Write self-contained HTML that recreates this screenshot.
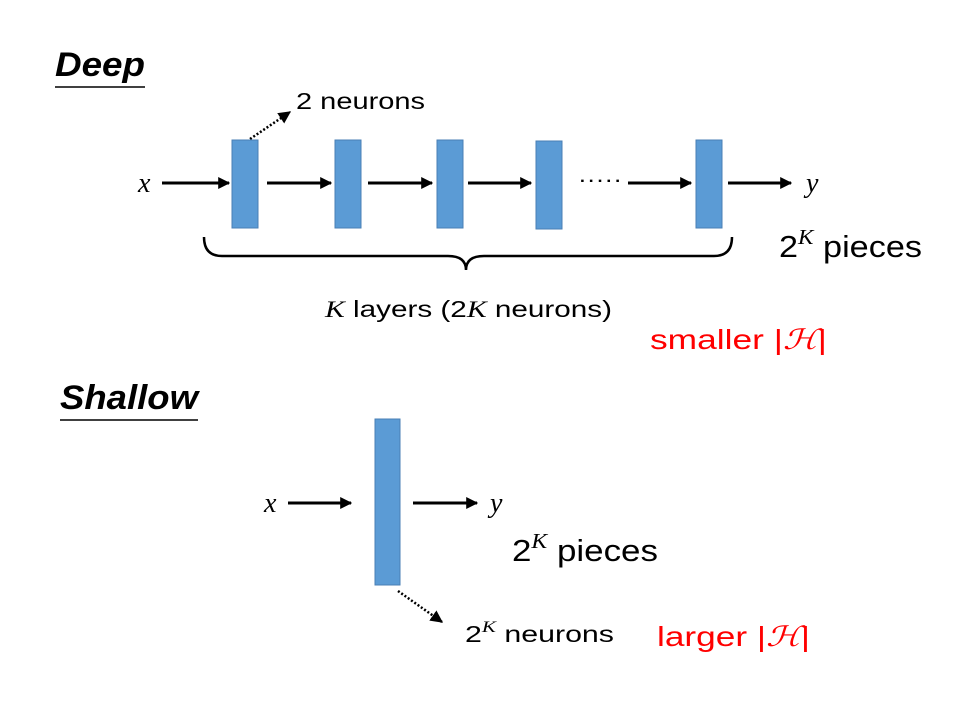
<!DOCTYPE html>
<html><head><meta charset="utf-8"><style>
html,body{margin:0;padding:0;background:#fff;width:960px;height:720px;overflow:hidden}
svg{display:block}
text{font-family:"Liberation Sans","DejaVu Sans",sans-serif}
.m{font-family:"Liberation Serif",serif;font-style:italic}
</style></head><body>
<svg width="960" height="720" viewBox="0 0 960 720">
<defs>
<marker id="ah" viewBox="0 0 10 10" refX="9" refY="5" markerWidth="4" markerHeight="4" orient="auto"><path d="M0,0L10,5L0,10z" fill="#000"/></marker>
<marker id="ahs" viewBox="0 0 10 10" refX="9" refY="5" markerWidth="5" markerHeight="5" orient="auto"><path d="M0,0L10,5L0,10z" fill="#000"/></marker>
</defs>
<g>
<text x="55" y="76" font-size="34" font-weight="bold" font-style="italic" textLength="90" lengthAdjust="spacingAndGlyphs">Deep</text>
<line x1="55" y1="87" x2="145" y2="87" stroke="#000" stroke-width="1.5"/>
<text x="296" y="109" font-size="23" textLength="129" lengthAdjust="spacingAndGlyphs">2 neurons</text>
<line x1="250" y1="139" x2="290" y2="112" stroke="#000" stroke-width="2.5" stroke-dasharray="2,2" marker-end="url(#ahs)"/>
<text x="138" y="192" font-size="28" class="m">x</text>
<g fill="#5b9bd5" stroke="#4a7fb5" stroke-width="1">
<rect x="232" y="140" width="26" height="88"/>
<rect x="335" y="140" width="26" height="88"/>
<rect x="437" y="140" width="26" height="88"/>
<rect x="536" y="141" width="26" height="88"/>
<rect x="696" y="140" width="26" height="88"/>
</g>
<g stroke="#000" stroke-width="3" marker-end="url(#ah)">
<line x1="162" y1="183" x2="229" y2="183"/>
<line x1="267" y1="183" x2="331" y2="183"/>
<line x1="368" y1="183" x2="432" y2="183"/>
<line x1="468" y1="183" x2="531" y2="183"/>
<line x1="628" y1="183" x2="691" y2="183"/>
<line x1="728" y1="183" x2="791" y2="183"/>
</g>
<text x="578" y="187" font-size="22" textLength="44" lengthAdjust="spacingAndGlyphs">·····</text>
<text x="806" y="192" font-size="28" class="m">y</text>
<path d="M204,237 Q204,256 222,256 L448,256 Q466,256 466,270 Q466,256 484,256 L714,256 Q732,256 732,237" fill="none" stroke="#000" stroke-width="2.5"/>
<text x="325" y="317" font-size="23" textLength="287" lengthAdjust="spacingAndGlyphs"><tspan class="m">K</tspan> layers (2<tspan class="m">K</tspan> neurons)</text>
<text x="779" y="257" font-size="31" textLength="143" lengthAdjust="spacingAndGlyphs">2<tspan font-size="21" dy="-13" class="m">K</tspan><tspan dy="13"> pieces</tspan></text>
<text x="650" y="349" font-size="28" fill="#ff0000" textLength="177" lengthAdjust="spacingAndGlyphs">smaller |<tspan class="m">ℋ</tspan>|</text>
</g>
<g>
<text x="60" y="409" font-size="34" font-weight="bold" font-style="italic" textLength="138" lengthAdjust="spacingAndGlyphs">Shallow</text>
<line x1="60" y1="420" x2="198" y2="420" stroke="#000" stroke-width="1.5"/>
<text x="264" y="512" font-size="28" class="m">x</text>
<line x1="288" y1="503" x2="351" y2="503" stroke="#000" stroke-width="3" marker-end="url(#ah)"/>
<rect x="375" y="419" width="25" height="166" fill="#5b9bd5" stroke="#4a7fb5"/>
<line x1="413" y1="503" x2="477" y2="503" stroke="#000" stroke-width="3" marker-end="url(#ah)"/>
<text x="490" y="512" font-size="28" class="m">y</text>
<text x="512" y="561" font-size="31" textLength="146" lengthAdjust="spacingAndGlyphs">2<tspan font-size="21" dy="-13" class="m">K</tspan><tspan dy="13"> pieces</tspan></text>
<line x1="398" y1="591" x2="442" y2="622" stroke="#000" stroke-width="2.5" stroke-dasharray="2,2" marker-end="url(#ahs)"/>
<text x="465" y="642" font-size="23" textLength="149" lengthAdjust="spacingAndGlyphs">2<tspan font-size="16" dy="-10" class="m">K</tspan><tspan dy="10"> neurons</tspan></text>
<text x="657" y="646" font-size="28" fill="#ff0000" textLength="153" lengthAdjust="spacingAndGlyphs">larger |<tspan class="m">ℋ</tspan>|</text>
</g>
</svg>
</body></html>
